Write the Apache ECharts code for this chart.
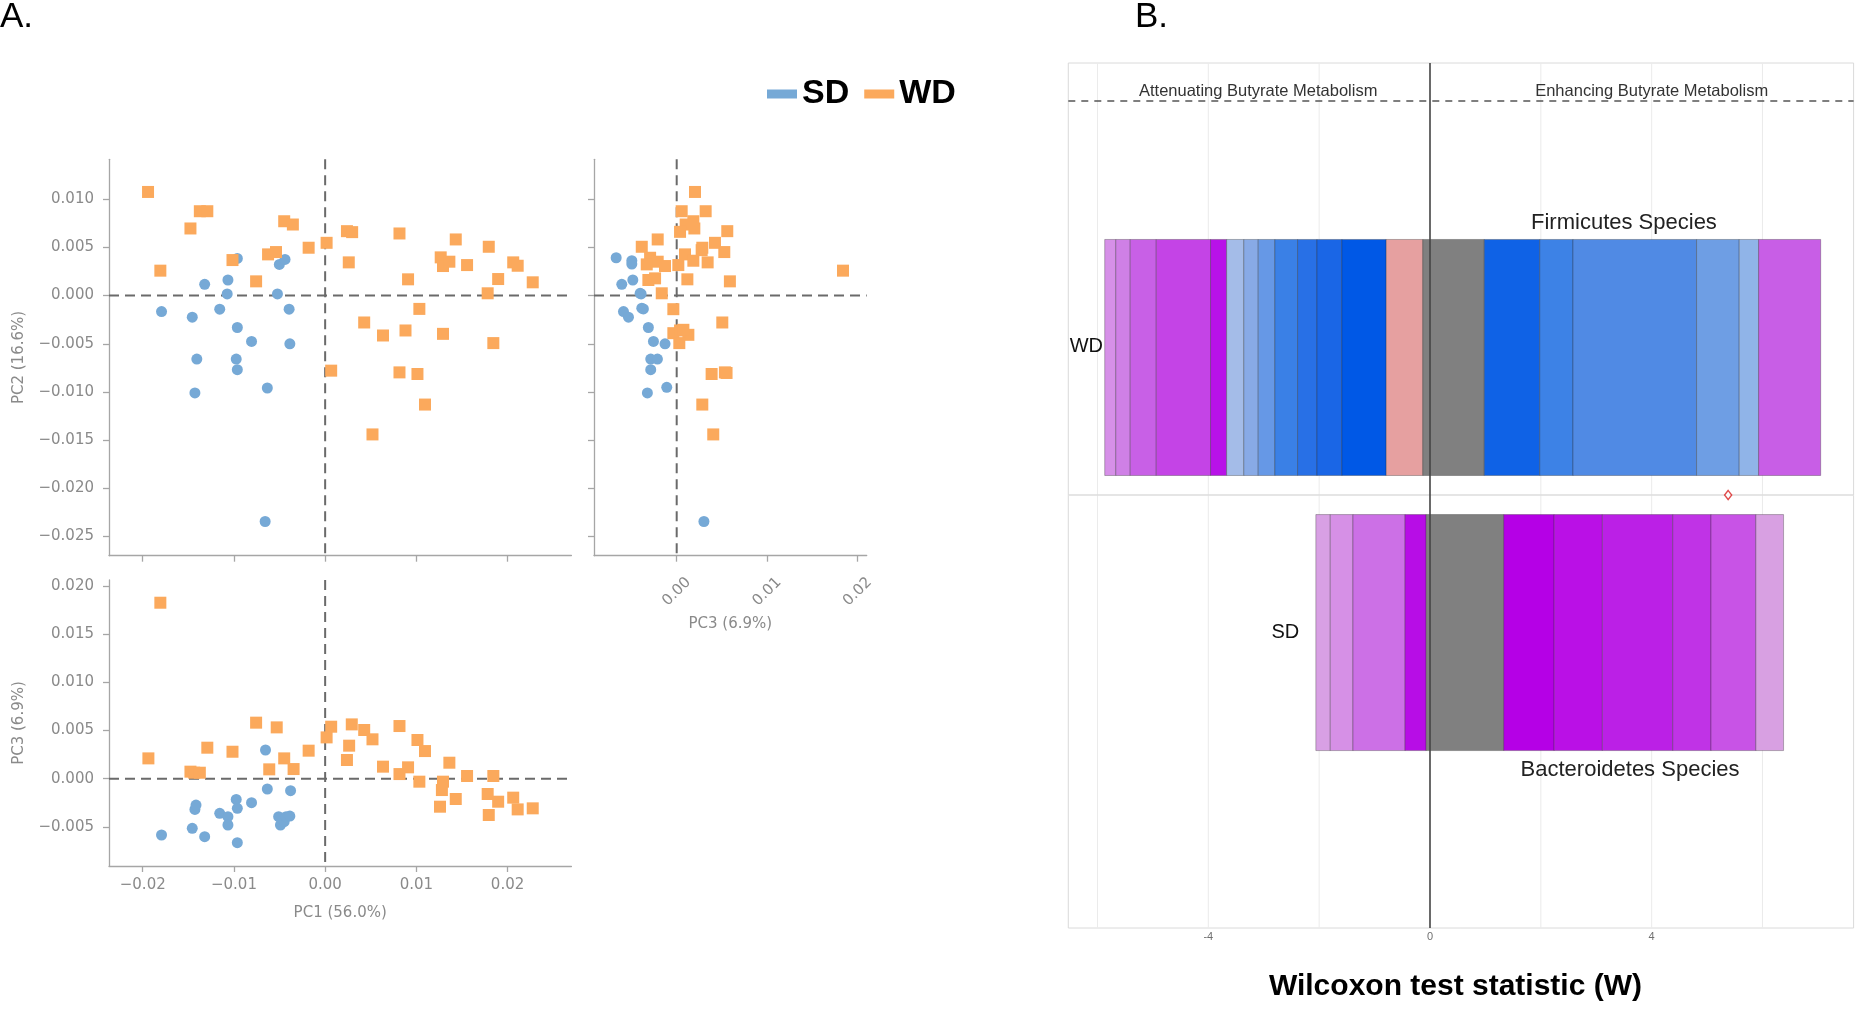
<!DOCTYPE html>
<html><head><meta charset="utf-8">
<script src="https://cdn.jsdelivr.net/npm/echarts@6/dist/echarts.min.js"></script>
<style>html,body{margin:0;padding:0;background:#fff}#c{width:1863px;height:1009px}</style>
</head><body><div id="c"></div>
<script>
// ---------------- DATA: Panel A (PCoA) ----------------
const groups = ['SD', 'WD'];
const sdPC1PC2 = [[-0.01794,-0.00166],[-0.01457,-0.00224],[-0.01321,0.00117],[-0.01066,0.00162],[-0.01074,0.00017],[-0.00963,0.00386],[-0.01156,-0.00141],[-0.00963,-0.00331],[-0.00807,-0.00476],[-0.01407,-0.00659],[-0.00975,-0.00659],[-0.00963,-0.00769],[-0.01428,-0.01010],[-0.00634,-0.00959],[-0.00523,0.00017],[-0.00502,0.00324],[-0.00440,0.00376],[-0.00395,-0.00141],[-0.00387,-0.00500],[-0.00658,-0.02345]];
const wdPC1PC2 = [[-0.01942,0.01076],[-0.01807,0.00259],[-0.01477,0.00697],[-0.01374,0.00876],[-0.01292,0.00876],[-0.01016,0.00369],[-0.00757,0.00148],[-0.00626,0.00428],[-0.00539,0.00452],[-0.00449,0.00772],[-0.00354,0.00738],[-0.00181,0.00497],[0.00016,0.00548],[0.00066,-0.00779],[0.00239,0.00669],[0.00296,0.00659],[0.00259,0.00345],[0.00428,-0.00279],[0.00634,-0.00414],[0.00519,-0.01441],[0.00815,0.00645],[0.00909,0.00169],[0.00881,-0.00362],[0.00815,-0.00797],[0.01012,-0.00814],[0.01033,-0.00138],[0.01095,-0.01131],[0.01267,0.00397],[0.01292,0.00307],[0.01362,0.00352],[0.01432,0.00583],[0.01556,0.00317],[0.01292,-0.00397],[0.01794,0.00507],[0.01782,0.00024],[0.01897,0.00172],[0.01844,-0.00493],[0.02062,0.00345],[0.02111,0.00310],[0.02276,0.00138]];
const sdPC3PC2 = [[-0.00669,0.00393],[-0.00496,0.00362],[-0.00496,0.00328],[-0.00485,0.00162],[-0.00607,0.00117],[-0.00393,0.00017],[-0.00404,0.00024],[-0.00386,-0.00131],[-0.00368,-0.00138],[-0.00588,-0.00166],[-0.00533,-0.00224],[-0.00313,-0.00331],[-0.00257,-0.00476],[-0.00129,-0.00500],[-0.00287,-0.00659],[-0.00213,-0.00659],[-0.00287,-0.00769],[-0.00324,-0.01010],[-0.00110,-0.00952],[0.00301,-0.02345]];
const wdPC3PC2 = [[0.00202,0.01076],[0.00055,0.00876],[0.00320,0.00876],[0.00184,0.00772],[0.00195,0.00697],[0.00099,0.00738],[0.00037,0.00662],[0.00559,0.00669],[-0.00210,0.00583],[-0.00386,0.00507],[0.00283,0.00497],[0.00423,0.00548],[0.00526,0.00452],[0.00092,0.00428],[-0.00294,0.00393],[-0.00210,0.00352],[-0.00331,0.00324],[-0.00129,0.00307],[0.00018,0.00317],[0.00184,0.00362],[0.00342,0.00345],[0.00276,0.00472],[0.01838,0.00259],[0.00118,0.00169],[0.00588,0.00148],[-0.00313,0.00162],[-0.00239,0.00179],[-0.00165,0.00024],[-0.00037,-0.00141],[0.00504,-0.00279],[-0.00037,-0.00390],[0.00037,-0.00362],[0.00129,-0.00407],[0.00029,-0.00493],[0.00386,-0.00814],[0.00533,-0.00797],[0.00551,-0.00803],[0.00283,-0.01131],[0.00404,-0.01441],[0.00074,-0.00355]];
const sdPC1PC3 = [[-0.01794,-0.00585],[-0.01457,-0.00516],[-0.01321,-0.00603],[-0.01428,-0.00319],[-0.01416,-0.00274],[-0.01156,-0.00360],[-0.01066,-0.00395],[-0.01066,-0.00481],[-0.00975,-0.00215],[-0.00963,-0.00308],[-0.00963,-0.00665],[-0.00807,-0.00249],[-0.00654,0.00298],[-0.00634,-0.00107],[-0.00510,-0.00395],[-0.00490,-0.00481],[-0.00449,-0.00447],[-0.00428,-0.00395],[-0.00387,-0.00388],[-0.00379,-0.00125]];
const wdPC1PC3 = [[-0.01807,0.01828],[-0.01938,0.00211],[-0.01477,0.00073],[-0.01436,0.00062],[-0.01374,0.00062],[-0.01292,0.00322],[-0.01016,0.00280],[-0.00757,0.00582],[-0.00531,0.00533],[-0.00613,0.00097],[-0.00449,0.00211],[-0.00346,0.00100],[-0.00181,0.00291],[0.00016,0.00429],[0.00066,0.00540],[0.00239,0.00194],[0.00263,0.00343],[0.00292,0.00564],[0.00428,0.00506],[0.00519,0.00409],[0.00634,0.00125],[0.00815,0.00547],[0.00815,0.00048],[0.00909,0.00118],[0.01012,0.00402],[0.01095,0.00287],[0.01033,-0.00031],[0.01292,-0.00031],[0.01280,-0.00118],[0.01259,-0.00291],[0.01362,0.00166],[0.01432,-0.00211],[0.01556,0.00028],[0.01782,-0.00159],[0.01844,0.00028],[0.01897,-0.00239],[0.01794,-0.00377],[0.02062,-0.00197],[0.02111,-0.00319],[0.02276,-0.00308]];
const pc1Ticks = [-0.02, -0.01, 0, 0.01, 0.02];
const pc2Ticks = [-0.025, -0.02, -0.015, -0.01, -0.005, 0, 0.005, 0.01];
const pc3Ticks = [-0.005, 0, 0.005, 0.01, 0.015, 0.02];
const pc3TicksX = [0, 0.01, 0.02];

// ---------------- DATA: Panel B (Wilcoxon) ----------------
const rowNames = ['SD', 'WD'];           // y = 1, 2
const wdBreaks = [-5.87,-5.67,-5.41,-4.94,-3.96,-3.67,-3.36,-3.10,-2.80,-2.39,-2.04,-1.59,-0.79,-0.13,0.98,1.98,2.58,4.81,5.58,5.93,7.05];
const sdBreaks = [-2.06,-1.80,-1.39,-0.45,-0.07,1.33,2.24,3.11,4.38,5.07,5.88,6.38];
const wTicks = [-4, 0, 4];
const wGridValues = [-6, -4, -2, 2, 4, 6];
const flaggedPoint = [[5.38, 1.5]];

// ---------------- STYLES ----------------
const wdColors = ['#d690e8','#cf80e6','#c860e6','#c444e6','#b812e8','#a4bce8','#88aae6','#6698e6','#3a80e6','#2870e6','#1a66e6','#0058e6','#e6a0a0','#808080','#0f62e6','#3d82e6','#508ae4','#6e9ee4','#90b4e8','#c85ee6'];
const sdColors = ['#d8a0e4','#d690e6','#cc70e6','#b70de6','#808080','#b500e6','#ba10e6','#bb20e6','#c033e6','#c853e6','#d8a0e2'];
const blue = '#76a9d6', orange = '#fba95c';
const aFont = 'DejaVu Sans', bFont = 'Liberation Sans';
const aGray = '#8a8a8a', aAxisCol = '#a6a6a6';
const barHalf = 0.429;

function fmt(d) {
  return v => Math.abs(v) < 1e-12 ? (0).toFixed(d) : (v < 0 ? '\u2212' : '') + Math.abs(v).toFixed(d);
}
function aAxis(o) {
  const ax = {
    type: 'value', gridIndex: o.g, min: o.min, max: o.max,
    splitLine: { show: false }, nameMoveOverlap: false,
    axisLine: { show: true, onZero: false, lineStyle: { color: aAxisCol, width: 1.3 } },
    axisTick: { show: true, length: 6, customValues: o.ticks, lineStyle: { color: aAxisCol, width: 1.3 } },
    axisLabel: o.labels ? Object.assign({ show: true, customValues: o.ticks, formatter: fmt(o.dec), color: aGray, fontSize: 15, fontFamily: aFont, margin: o.margin }, o.lab || {}) : { show: false }
  };
  if (o.name) Object.assign(ax, { name: o.name, nameLocation: 'middle', nameGap: o.nameGap, nameTextStyle: { color: aGray, fontSize: 15, fontFamily: aFont } });
  return ax;
}
function refLines(gi, lines, style, z) {
  return {
    type: 'custom', xAxisIndex: gi, yAxisIndex: gi, z: z, silent: true,
    data: lines.map(l => l.dir === 'v' ? [l.v, 0] : [0, l.v]),
    renderItem: (params, api) => {
      const l = lines[params.dataIndex], cs = params.coordSys;
      if (l.dir === 'v') {
        const x = api.coord([l.v, 0])[0];
        return { type: 'line', shape: { x1: x, y1: cs.y, x2: x, y2: cs.y + cs.height }, style: style };
      }
      const y = api.coord([0, l.v])[1];
      return { type: 'line', shape: { x1: cs.x, y1: y, x2: cs.x + cs.width, y2: y }, style: style };
    }
  };
}
function scatterPair(gi, sd, wd) {
  return [
    { name: 'SD', type: 'scatter', xAxisIndex: gi, yAxisIndex: gi, z: 3, data: sd, symbol: 'circle', symbolSize: 11, itemStyle: { color: blue, opacity: 1 } },
    { name: 'WD', type: 'scatter', xAxisIndex: gi, yAxisIndex: gi, z: 3, data: wd, symbol: 'rect', symbolSize: 12, itemStyle: { color: orange, opacity: 1 } }
  ];
}
const zeroDash = { stroke: '#6a6a6a', lineWidth: 2, lineDash: [10, 6] };

// Panel B segments
const segs = [];
[[wdBreaks, wdColors, 2], [sdBreaks, sdColors, 1]].forEach(([b, c, row]) => {
  for (let i = 0; i < b.length - 1; i++) segs.push({ s: b[i], e: b[i + 1], row: row, color: c[i] });
});
const notes = [
  { t: 'Attenuating Butyrate Metabolism', x: -3.10, y: 2.966, size: 16.5, color: '#333', align: 'center' },
  { t: 'Enhancing Butyrate Metabolism', x: 4.0, y: 2.966, size: 16.5, color: '#333', align: 'center' },
  { t: 'Firmicutes Species', x: 3.50, y: 2.489, size: 22, color: '#222', align: 'center' },
  { t: 'Bacteroidetes Species', x: 3.61, y: 0.50, size: 22, color: '#222', align: 'center' },
  { t: rowNames[1], x: -5.90, y: 2.04, size: 20, color: '#111', align: 'right' },
  { t: rowNames[0], x: -2.36, y: 1.00, size: 20, color: '#111', align: 'right' }
];

const chart = echarts.init(document.getElementById('c'), null, { renderer: 'canvas' });
chart.setOption({
  animation: false,
  backgroundColor: '#fff',
  legend: {
    data: groups, left: 767, top: 77, padding: 0, icon: 'rect', itemWidth: 30, itemHeight: 9, itemGap: 15,
    textStyle: { fontSize: 34, fontWeight: 'bold', fontFamily: bFont, color: '#000' }
  },
  graphic: [
    { type: 'text', left: 0, top: 0, style: { text: 'A.', fontSize: 35, fontFamily: bFont, fill: '#000' } },
    { type: 'text', left: 1135, top: 0, style: { text: 'B.', fontSize: 35, fontFamily: bFont, fill: '#000' } }
  ],
  grid: [
    { left: 109, top: 159.3, width: 462.4, height: 396.4, outerBoundsMode: 'none', containLabel: false },
    { left: 594, top: 159.3, width: 272.7, height: 396.4, outerBoundsMode: 'none', containLabel: false },
    { left: 109, top: 580, width: 462.4, height: 286, outerBoundsMode: 'none', containLabel: false },
    { left: 1068.3, top: 63, width: 785.3, height: 865, show: true, borderColor: '#dadada', borderWidth: 1, backgroundColor: 'transparent', outerBoundsMode: 'none', containLabel: false }
  ],
  xAxis: [
    aAxis({ g: 0, min: -0.0237, max: 0.0270, ticks: pc1Ticks, labels: false }),
    aAxis({ g: 1, min: -0.00914, max: 0.0210, ticks: pc3TicksX, labels: true, dec: 2, margin: 36,
      lab: { rotate: 45, align: 'center', verticalAlign: 'middle' }, name: 'PC3 (6.9%)', nameGap: 61 }),
    aAxis({ g: 2, min: -0.0237, max: 0.0270, ticks: pc1Ticks, labels: true, dec: 2, margin: 12, name: 'PC1 (56.0%)', nameGap: 40 }),
    {
      type: 'value', gridIndex: 3, min: -6.527, max: 7.644, nameMoveOverlap: false,
      splitLine: { show: false }, axisLine: { show: false, onZero: false }, axisTick: { show: false },
      axisLabel: { customValues: wTicks, fontSize: 11, color: '#707070', fontFamily: bFont, margin: 3, formatter: v => String(v) },
      name: 'Wilcoxon test statistic (W)', nameLocation: 'middle', nameGap: 44,
      nameTextStyle: { fontSize: 30, fontWeight: 'bold', fontFamily: bFont, color: '#000', padding: [0, 11, 0, 0] }
    }
  ],
  yAxis: [
    aAxis({ g: 0, min: -0.0270, max: 0.01415, ticks: pc2Ticks, labels: true, dec: 3, margin: 15, name: 'PC2 (16.6%)', nameGap: 82 }),
    aAxis({ g: 1, min: -0.0270, max: 0.01415, ticks: pc2Ticks, labels: false }),
    aAxis({ g: 2, min: -0.00907, max: 0.02064, ticks: pc3Ticks, labels: true, dec: 3, margin: 15, name: 'PC3 (6.9%)', nameGap: 82 }),
    { type: 'value', gridIndex: 3, min: -0.074, max: 3.0705, show: false, splitLine: { show: false } }
  ],
  series: [
    refLines(0, [{ dir: 'v', v: 0 }, { dir: 'h', v: 0 }], zeroDash, 1),
    refLines(1, [{ dir: 'v', v: 0 }, { dir: 'h', v: 0 }], zeroDash, 1),
    refLines(2, [{ dir: 'v', v: 0 }, { dir: 'h', v: 0 }], zeroDash, 1),
    ...scatterPair(0, sdPC1PC2, wdPC1PC2),
    ...scatterPair(1, sdPC3PC2, wdPC3PC2),
    ...scatterPair(2, sdPC1PC3, wdPC1PC3),
    // Panel B
    refLines(3, wGridValues.map(v => ({ dir: 'v', v: v })), { stroke: '#ebebeb', lineWidth: 1 }, 1),
    refLines(3, [{ dir: 'h', v: 1.5 }], { stroke: '#dcdcdc', lineWidth: 1.3 }, 1),
    {
      type: 'custom', xAxisIndex: 3, yAxisIndex: 3, z: 2, silent: true,
      data: segs.map(s => [s.s, s.e, s.row]), encode: { x: [0, 1], y: 2 },
      renderItem: (params, api) => {
        const p0 = api.coord([api.value(0), api.value(2) + barHalf]);
        const p1 = api.coord([api.value(1), api.value(2) - barHalf]);
        return { type: 'rect', shape: { x: p0[0], y: p0[1], width: p1[0] - p0[0], height: p1[1] - p0[1] },
          style: { fill: segs[params.dataIndex].color, stroke: 'rgba(40,40,40,0.32)', lineWidth: 1 } };
      }
    },
    refLines(3, [{ dir: 'v', v: 0 }], { stroke: '#444', lineWidth: 1.6 }, 4),
    refLines(3, [{ dir: 'h', v: 2.932 }], { stroke: '#555', lineWidth: 1.5, lineDash: [7, 6] }, 4),
    {
      type: 'custom', xAxisIndex: 3, yAxisIndex: 3, z: 5, silent: true,
      data: notes.map(n => [n.x, n.y]),
      renderItem: (params, api) => {
        const n = notes[params.dataIndex];
        const p = api.coord([n.x, n.y]);
        return { type: 'text', x: p[0], y: p[1], style: { text: n.t, fontSize: n.size, fontFamily: bFont, fill: n.color, align: n.align, verticalAlign: 'middle' } };
      }
    },
    { name: 'flag', type: 'scatter', xAxisIndex: 3, yAxisIndex: 3, z: 6, data: flaggedPoint, symbol: 'diamond', symbolSize: [7, 9],
      itemStyle: { color: '#fff', borderColor: '#d81e1e', borderWidth: 1.5 } }
  ]
});
</script>
</body></html>
